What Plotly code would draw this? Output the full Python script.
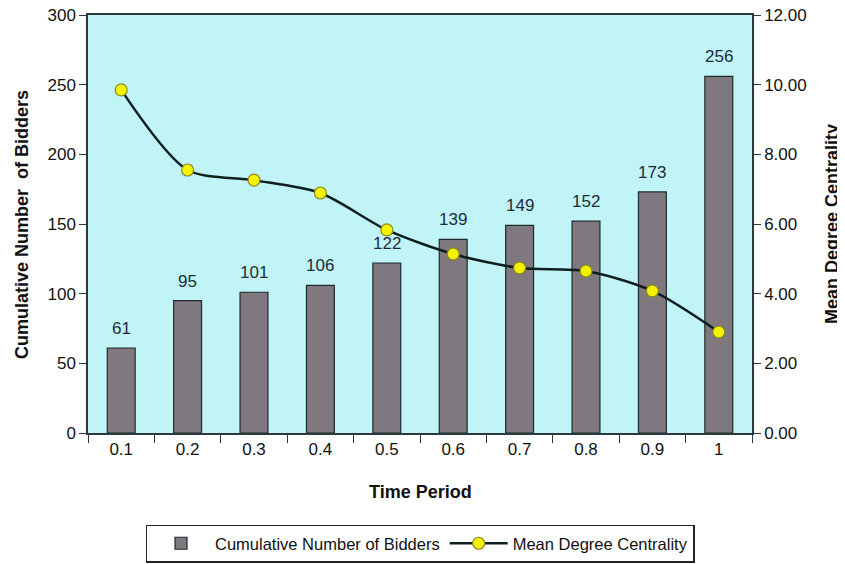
import plotly.graph_objects as go

periods = ["0.1", "0.2", "0.3", "0.4", "0.5", "0.6", "0.7", "0.8", "0.9", "1"]
bidders = [61, 95, 101, 106, 122, 139, 149, 152, 173, 256]
centrality = [9.85, 7.55, 7.26, 6.89, 5.83, 5.14, 4.74, 4.65, 4.08, 2.90]

fig = go.Figure()
fig.add_trace(go.Bar(
    x=periods, y=bidders, name="Cumulative Number of Bidders",
    width=0.42,
    marker=dict(color="#7f787f", line=dict(color="#1f2a2a", width=1.2)),
))
fig.add_trace(go.Scatter(
    x=periods, y=centrality, name="Mean Degree Centrality", yaxis="y2",
    mode="lines+markers",
    line=dict(color="#0f1f1f", width=2.5, shape="spline", smoothing=0.8),
    marker=dict(color="#f5f200", size=12, line=dict(color="#8a8a20", width=1.2)),
))

annotations = []
for i, v in enumerate(bidders):
    annotations.append(dict(x=i, y=v, xref="x", yref="y", text=str(v), showarrow=False,
                            yanchor="bottom", yshift=8,
                            font=dict(family="Arial", size=17, color="#1e2b3a")))
annotations += [
    dict(text="<b>Time Period</b>", xref="paper", yref="paper", x=0.5, y=-0.141,
         xanchor="center", yanchor="middle", showarrow=False,
         font=dict(size=18, color="#111")),
    dict(text="<b>Cumulative Number  of Bidders</b>", xref="paper", yref="paper",
         x=-0.0994, y=0.5, textangle=-90, showarrow=False,
         xanchor="center", yanchor="middle",
         font=dict(size=18, color="#111")),
    dict(text="<b>Mean Degree Centrality</b>", xref="paper", yref="paper",
         x=1.1205, y=0.5, textangle=-90, showarrow=False,
         xanchor="center", yanchor="middle",
         font=dict(size=18, color="#111")),
]

fig.update_layout(
    width=845, height=564,
    margin=dict(l=80, r=101, t=7, b=139, autoexpand=False),
    paper_bgcolor="white", plot_bgcolor="#c0f4f6",
    font=dict(family="Arial", size=17, color="#111"),
    bargap=0.58,
    showlegend=True,
    annotations=annotations,
    legend=dict(orientation="h", x=0.5, xanchor="center", y=-0.219, yanchor="top",
                bgcolor="white", bordercolor="#222", borderwidth=1.5,
                font=dict(family="Arial", size=16.5, color="#111"),
                itemwidth=58, traceorder="normal"),
    xaxis=dict(
        type="category", automargin=False, range=[-0.5, 9.5],
        showline=True, linecolor="#2a3a3a", linewidth=1.5, mirror=True,
        ticks="outside", tickson="boundaries", ticklen=8, tickcolor="#2a3a3a",
        tickfont=dict(size=17), showgrid=False,
    ),
    yaxis=dict(
        range=[0, 300], dtick=50, automargin=False, ticklabeloverflow="allow",
        showline=True, linecolor="#2a3a3a", linewidth=1.5,
        ticks="outside", ticklen=7, tickcolor="#2a3a3a",
        tickfont=dict(size=17), showgrid=False, zeroline=False,
    ),
    yaxis2=dict(
        range=[0, 12], dtick=2, tickformat=".2f", overlaying="y", side="right",
        automargin=False, ticklabeloverflow="allow",
        showline=True, linecolor="#2a3a3a", linewidth=1.5,
        ticks="outside", ticklen=7, tickcolor="#2a3a3a",
        tickfont=dict(size=17), showgrid=False, zeroline=False,
    ),
)

fig.write_html("out.html")
